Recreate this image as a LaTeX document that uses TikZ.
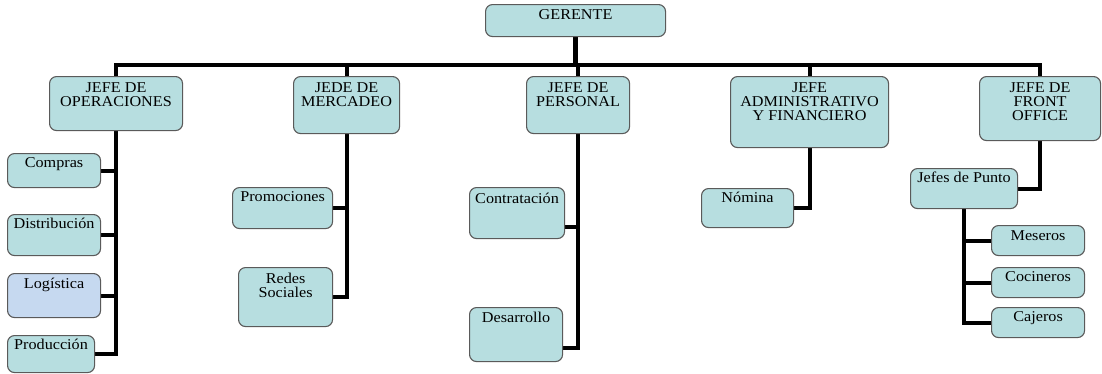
\documentclass[tikz,border=0pt]{standalone}
\usepackage{fontspec}
\setmainfont{Liberation Serif}[FakeStretch=1.08]
\usetikzlibrary{calc}
\pgfdeclarelayer{background}
\pgfsetlayers{background,main}
\definecolor{boxfill}{HTML}{B7DEE0}
\definecolor{logfill}{HTML}{C6D9F0}
\definecolor{boxline}{HTML}{5A5A5A}
\tikzset{
  box/.style={draw=boxline, line width=1.1pt, fill=boxfill, rounded corners=7pt, anchor=north west, inner sep=0pt},
  lbl/.style={anchor=north, inner sep=0pt, align=center, font=\fontsize{15}{14}\selectfont},
  wire/.style={line width=4pt, line join=miter},
  thickwire/.style={line width=5.5pt}
}
\begin{document}
\begin{tikzpicture}[x=1pt,y=-1pt]
\useasboundingbox (0,0) rectangle (1102,373);
% top
\node[box, minimum width=180pt, minimum height=32pt] (ger) at (485,4) {};
\node[lbl] (gerT) at ([yshift=-5pt]ger.north) {GERENTE};
% heads
\node[box, minimum width=133pt, minimum height=54pt] (ops) at (49,76) {};
\node[lbl] (opsT) at ([yshift=-6pt]ops.north) {JEFE DE\\OPERACIONES};
\node[box, minimum width=106pt, minimum height=57pt] (mer) at (293,76) {};
\node[lbl] (merT) at ([yshift=-6pt]mer.north) {JEDE DE\\MERCADEO};
\node[box, minimum width=103pt, minimum height=57pt] (per) at (526,76) {};
\node[lbl] (perT) at ([yshift=-6pt]per.north) {JEFE DE\\PERSONAL};
\node[box, minimum width=158pt, minimum height=71pt] (adm) at (730,76) {};
\node[lbl] (admT) at ([yshift=-6pt]adm.north) {JEFE\\ADMINISTRATIVO\\Y FINANCIERO};
\node[box, minimum width=121pt, minimum height=64pt] (fro) at (979,76) {};
\node[lbl] (froT) at ([yshift=-6pt]fro.north) {JEFE DE\\FRONT\\OFFICE};
% operaciones children
\node[box, minimum width=93pt, minimum height=34pt] (com) at (7,153) {};
\node[lbl] (comT) at ([yshift=-4pt]com.north) {Compras};
\node[box, minimum width=93pt, minimum height=41pt] (dis) at (7,214) {};
\node[lbl] (disT) at ([yshift=-4pt]dis.north) {Distribución};
\node[box, fill=logfill, minimum width=93pt, minimum height=44pt] (log) at (7,273) {};
\node[lbl] (logT) at ([yshift=-4.5pt]log.north) {Logística};
\node[box, minimum width=87pt, minimum height=37pt] (pro) at (7,335) {};
\node[lbl] (proT) at ([yshift=-4pt]pro.north) {Producción};
% mercadeo children
\node[box, minimum width=100pt, minimum height=41pt] (prm) at (232,187) {};
\node[lbl] (prmT) at ([yshift=-4pt]prm.north) {Promociones};
\node[box, minimum width=94pt, minimum height=59pt] (red) at (238,267) {};
\node[lbl] (redT) at ([yshift=-6pt]red.north) {Redes\\Sociales};
% personal children
\node[box, minimum width=95pt, minimum height=51pt] (con) at (469,187) {};
\node[lbl] (conT) at ([yshift=-6pt]con.north) {Contratación};
\node[box, minimum width=93pt, minimum height=54pt] (des) at (469,307) {};
\node[lbl] (desT) at ([yshift=-5pt]des.north) {Desarrollo};
% administrativo child
\node[box, minimum width=92pt, minimum height=39pt] (nom) at (701,188) {};
\node[lbl] (nomT) at ([yshift=-4pt]nom.north) {Nómina};
% front office children
\node[box, minimum width=107pt, minimum height=40pt] (jp) at (910,168) {};
\node[lbl] (jpT) at ([yshift=-4pt]jp.north) {Jefes de Punto};
\node[box, minimum width=93pt, minimum height=30pt] (mes) at (991,225) {};
\node[lbl] (mesT) at ([yshift=-5pt]mes.north) {Meseros};
\node[box, minimum width=93pt, minimum height=30pt] (coc) at (991,267) {};
\node[lbl] (cocT) at ([yshift=-4pt]coc.north) {Cocineros};
\node[box, minimum width=93pt, minimum height=30pt] (caj) at (991,307) {};
\node[lbl] (cajT) at ([yshift=-4pt]caj.north) {Cajeros};
\coordinate (bus) at (0,65);
\begin{pgfonlayer}{background}
\draw[thickwire] (ger.south) -- (ger.south |- bus);
\draw[wire] (ops.north) -- (ops.north |- bus) -- (fro.north |- bus) -- (fro.north);
\draw[wire] (mer.north) -- (mer.north |- bus);
\draw[wire] (per.north) -- (per.north |- bus);
\draw[wire] (adm.north) -- (adm.north |- bus);
% operaciones
\draw[wire] (ops.south) |- (pro.east);
\draw[wire] (com.east) -- (com.east -| ops.south);
\draw[wire] (dis.east) -- (dis.east -| ops.south);
\draw[wire] (log.east) -- (log.east -| ops.south);
% mercadeo
\draw[wire] (mer.south) |- (red.east);
\draw[wire] (prm.east) -- (prm.east -| mer.south);
% personal
\draw[wire] (per.south) |- ([yshift=-13pt]des.east);
\draw[wire] ([yshift=-14pt]con.east) -- ([yshift=-14pt]con.east -| per.south);
% administrativo
\draw[wire] (adm.south) |- (nom.east);
% front office
\draw[wire] (fro.south) |- (jp.east);
\draw[wire] (jp.south) |- (caj.west);
\draw[wire] (mes.west) -- (mes.west -| jp.south);
\draw[wire] (coc.west) -- (coc.west -| jp.south);
\end{pgfonlayer}
\end{tikzpicture}
\end{document}
